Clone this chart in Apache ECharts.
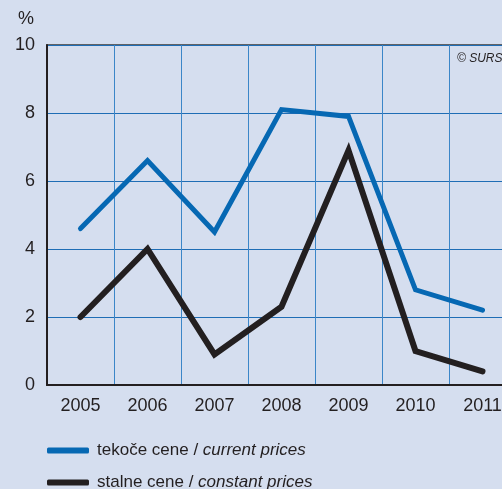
<!DOCTYPE html>
<html>
<head>
<meta charset="utf-8">
<script src="https://cdn.jsdelivr.net/npm/echarts@6/dist/echarts.min.js"></script>
<style>
html, body { margin: 0; padding: 0; overflow: hidden; background: #d5deef; }
#main { width: 520px; height: 520px; }
</style>
</head>
<body>
<div id="main"></div>
<script>
var years = ['2005', '2006', '2007', '2008', '2009', '2010', '2011'];
var currentPrices = [4.6, 6.6, 4.5, 8.1, 7.9, 2.8, 2.2];
var constantPrices = [2.0, 4.0, 0.9, 2.3, 6.9, 1.0, 0.4];
var yTicks = [0, 2, 4, 6, 8, 10];

var font = '"Liberation Sans Narrow", "Liberation Sans", Arial, sans-serif';

var myChart = echarts.init(document.getElementById('main'));
var option = {
    backgroundColor: '#d5deef',
    animation: false,
    textStyle: { fontFamily: font },
    grid: {
        left: 47,
        right: 4,
        top: 45,
        bottom: 135,
        show: true,
        borderColor: '#3a3a3a',
        borderWidth: 1.5
    },
    legend: {
        orient: 'vertical',
        left: 47,
        top: 442,
        padding: 0,
        itemWidth: 42,
        itemHeight: 6,
        itemGap: 15,
        icon: 'roundRect',
        data: ['tekoče cene', 'stalne cene'],
        formatter: function (name) {
            if (name === 'tekoče cene') return 'tekoče cene / {i|current prices}';
            return 'stalne cene / {i|constant prices}';
        },
        textStyle: {
            fontFamily: font,
            fontSize: 17,
            color: '#231f20',
            padding: [0, 0, 0, 3],
            rich: { i: { fontStyle: 'italic', fontFamily: font, fontSize: 17, color: '#231f20' } }
        }
    },
    graphic: [{
        type: 'text',
        left: 457,
        top: 53,
        style: { text: '© SURS', font: 'italic 12px ' + font, fill: '#231f20' }
    }],
    xAxis: {
        type: 'category',
        data: years,
        boundaryGap: true,
        axisLine: { lineStyle: { color: '#231f20', width: 2 } },
        axisTick: { show: false },
        axisLabel: { color: '#231f20', fontSize: 18, margin: 12, fontFamily: font },
        splitLine: { show: true, lineStyle: { color: '#3b86c8', width: 1 } }
    },
    yAxis: {
        type: 'value',
        min: 0,
        max: 10,
        interval: 2,
        name: '%',
        nameLocation: 'end',
        nameGap: 17,
        nameTextStyle: { color: '#231f20', fontSize: 18, fontFamily: font, align: 'right', padding: [0, 13, 0, 0] },
        axisLine: { show: true, lineStyle: { color: '#231f20', width: 2 } },
        axisTick: { show: false },
        axisLabel: {
            color: '#231f20', fontSize: 18, margin: 12, fontFamily: font,
            formatter: function (v) { return yTicks.indexOf(v) >= 0 ? String(v) : ''; }
        },
        splitLine: { show: true, lineStyle: { color: '#1f6db5', width: 1 } }
    },
    series: [
        {
            name: 'tekoče cene',
            type: 'line',
            data: currentPrices,
            symbol: 'none',
            color: '#0668b3',
            lineStyle: { color: '#0668b3', width: 5, cap: 'round', join: 'miter' }
        },
        {
            name: 'stalne cene',
            type: 'line',
            data: constantPrices,
            symbol: 'none',
            color: '#231f20',
            lineStyle: { color: '#231f20', width: 6, cap: 'round', join: 'miter' }
        }
    ]
};
myChart.setOption(option);
</script>
</body>
</html>
